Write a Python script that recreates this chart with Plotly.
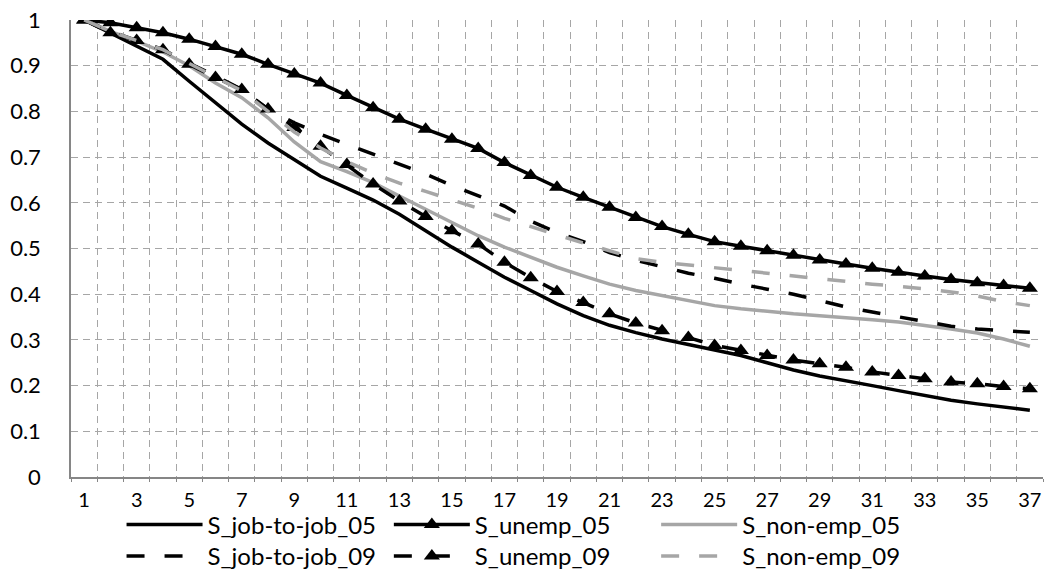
import plotly.graph_objects as go

months = list(range(1, 38))

s_job_05 = [1.0, 0.972, 0.943, 0.914, 0.866, 0.819, 0.772, 0.731, 0.695, 0.658,
            0.632, 0.606, 0.575, 0.539, 0.503, 0.47, 0.437, 0.408, 0.379, 0.353,
            0.332, 0.316, 0.302, 0.29, 0.278, 0.266, 0.25, 0.234, 0.221, 0.211,
            0.2, 0.189, 0.178, 0.168, 0.16, 0.153, 0.146]
s_unemp_05 = [1.0, 0.994, 0.983, 0.972, 0.958, 0.942, 0.925, 0.903, 0.882, 0.862,
              0.835, 0.808, 0.783, 0.761, 0.739, 0.719, 0.688, 0.66, 0.634, 0.612,
              0.59, 0.568, 0.548, 0.531, 0.515, 0.505, 0.495, 0.485, 0.475, 0.466,
              0.457, 0.448, 0.44, 0.432, 0.425, 0.419, 0.413]
s_nonemp_05 = [1.0, 0.975, 0.954, 0.93, 0.9, 0.862, 0.83, 0.786, 0.733, 0.69,
               0.668, 0.644, 0.615, 0.586, 0.557, 0.528, 0.503, 0.48, 0.459, 0.44,
               0.422, 0.408, 0.397, 0.385, 0.375, 0.368, 0.362, 0.357, 0.353, 0.349,
               0.344, 0.339, 0.332, 0.324, 0.315, 0.302, 0.286]
s_job_09 = [1.0, 0.975, 0.955, 0.935, 0.905, 0.878, 0.848, 0.805, 0.775, 0.75,
            0.728, 0.706, 0.684, 0.663, 0.638, 0.615, 0.593, 0.56, 0.535, 0.515,
            0.491, 0.474, 0.46, 0.446, 0.435, 0.422, 0.411, 0.4, 0.386, 0.372,
            0.361, 0.35, 0.34, 0.33, 0.324, 0.32, 0.317]
s_unemp_09 = [1.0, 0.972, 0.955, 0.935, 0.903, 0.874, 0.848, 0.805, 0.765, 0.724,
              0.684, 0.641, 0.604, 0.57, 0.539, 0.51, 0.47, 0.436, 0.406, 0.382,
              0.357, 0.337, 0.32, 0.305, 0.288, 0.277, 0.266, 0.256, 0.248, 0.24,
              0.23, 0.222, 0.215, 0.208, 0.204, 0.198, 0.193]
s_nonemp_09 = [1.0, 0.975, 0.955, 0.935, 0.905, 0.875, 0.845, 0.8, 0.755, 0.72,
               0.69, 0.665, 0.643, 0.625, 0.607, 0.588, 0.566, 0.549, 0.53, 0.512,
               0.495, 0.478, 0.47, 0.464, 0.458, 0.452, 0.445, 0.439, 0.433, 0.428,
               0.422, 0.417, 0.412, 0.405, 0.396, 0.384, 0.375]

series_names = ["S_job-to-job_05", "S_unemp_05", "S_non-emp_05",
                "S_job-to-job_09", "S_unemp_09", "S_non-emp_09"]
x_tick_labels = [str(m) for m in range(1, 38, 2)]
y_ticks = [round(i * 0.1, 1) for i in range(11)]

BLACK = "#000000"
GRAY = "#A6A6A6"
DASH = "18px,20px"
FONT = "Lato, 'Open Sans', sans-serif"

series = [
    (s_job_05, BLACK, "solid", False),
    (s_unemp_05, BLACK, "solid", True),
    (s_nonemp_05, GRAY, "solid", False),
    (s_job_09, BLACK, DASH, False),
    (s_unemp_09, BLACK, DASH, True),
    (s_nonemp_09, GRAY, DASH, False),
]
legend_ids = ["legend", "legend2", "legend3", "legend4", "legend5", "legend6"]

fig = go.Figure()
for i, (vals, col, dash, mk) in enumerate(series):
    fig.add_trace(go.Scatter(
        x=months, y=vals, name=series_names[i],
        mode="lines+markers" if mk else "lines",
        line=dict(color=col, width=3.5, dash=dash),
        marker=dict(symbol="triangle-up", size=14, color=BLACK) if mk else None,
        legend=legend_ids[i]))

# legend placement (3 columns x 2 rows, below the axis)
col_x = [0.052, 0.327, 0.602]
row_y = [-0.105, -0.174]
legend_layout = {}
for i, lid in enumerate(legend_ids):
    legend_layout[lid] = dict(
        x=col_x[i % 3], xanchor="left", y=row_y[i // 3], yanchor="middle",
        orientation="h", itemwidth=76, font=dict(family=FONT, size=24, color="black"),
        bgcolor="rgba(0,0,0,0)", borderwidth=0)

fig.update_layout(
    width=1047, height=583,
    paper_bgcolor="white", plot_bgcolor="white",
    margin=dict(l=71, r=4, t=20, b=104),
    font=dict(family=FONT, size=22, color="black"),
    showlegend=True,
    xaxis=dict(range=[0.5, 37.5], tickmode="array",
               tickvals=list(range(1, 38, 2)), ticktext=x_tick_labels,
               tickfont=dict(size=20),
               showgrid=False, zeroline=False,
               showline=True, linecolor="#868686", linewidth=1.5,
               ticks="", ticklabelstandoff=4,
               minor=dict(tick0=0.5, dtick=1, showgrid=True, gridcolor="#A6A6A6",
                          gridwidth=1, griddash="7px,5px",
                          ticks="outside", ticklen=3, tickcolor="#868686")),
    yaxis=dict(range=[0, 1], tickmode="array", tickvals=y_ticks,
               ticktext=[("%g" % v) for v in y_ticks],
               tickfont=dict(size=22),
               showgrid=True, gridcolor="#A6A6A6", gridwidth=1, griddash="7px,5px",
               zeroline=False, showline=True, linecolor="#868686", linewidth=1.5,
               ticks="", ticklabelstandoff=24),
    **legend_layout,
)

fig.write_html("out.html", config={"displayModeBar": False},
               post_script="document.body.style.margin='0';document.body.style.overflow='hidden';")
